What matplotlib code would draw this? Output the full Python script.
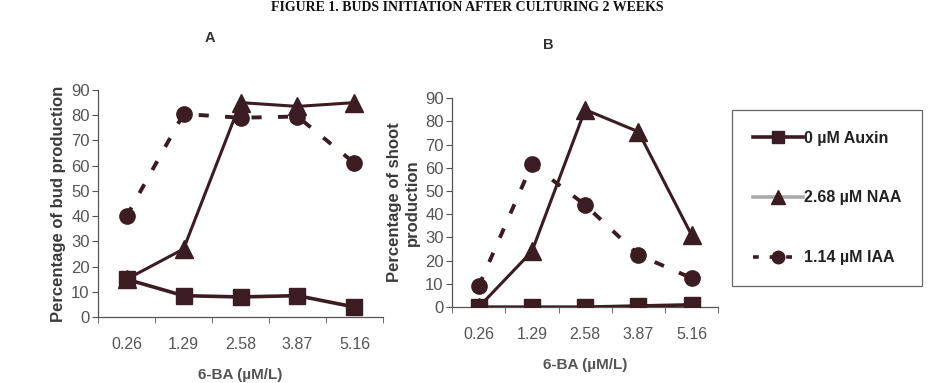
import numpy as np
import matplotlib.pyplot as plt
from matplotlib.lines import Line2D

plt.rcParams['font.family'] = ['Liberation Sans', 'DejaVu Sans']

# %%
ba = ['0.26', '1.29', '2.58', '3.87', '5.16']

# A: bud production
a_auxin = [15, 8.5, 8, 8.5, 4]
a_naa = [15, 27, 85, 83.5, 85]
a_iaa = [40, 80.5, 79, 79.5, 61]

# B: shoot production
b_auxin = [0, 0, 0, 0.5, 1]
b_naa = [0, 24, 85, 75.5, 31]
b_iaa = [9, 61.5, 44, 22.5, 12.5]

labels = ['0 µM Auxin', '2.68 µM NAA', '1.14 µM IAA']

# %%
dark = '#3b1c22'
gray = '#555555'

fig = plt.figure(figsize=(9.34, 3.83), dpi=100)
fig.text(0.5, 0.998, 'FIGURE 1. BUDS INITIATION AFTER CULTURING 2 WEEKS',
         ha='center', va='top', fontsize=10, fontweight='bold',
         family='Liberation Serif', color='#111111')

axA = fig.add_axes([0.105, 0.172, 0.305, 0.593])
axB = fig.add_axes([0.484, 0.198, 0.285, 0.546])


def draw(ax, auxin, naa, iaa, ylabel):
    x = np.arange(len(ba))
    ax.plot(x, iaa, color=dark, lw=2.8, ls=(0, (2.6, 4.2)), marker='o', ms=11,
            zorder=3)
    ax.plot(x, naa, color=dark, lw=2.2, marker='^', ms=12.5, zorder=4)
    ax.plot(x, auxin, color=dark, lw=2.6, marker='s', ms=12, zorder=5)
    ax.set_xlim(-0.5, 4.5)
    ax.set_ylim(0, 90)
    ax.set_yticks(range(0, 91, 10))
    ax.set_xticks(x)
    ax.set_xticklabels(ba)
    ax.set_xticks(np.arange(-0.5, 5, 1), minor=True)
    ax.tick_params(axis='x', which='major', length=0, pad=14,
                   labelsize=11.5, labelcolor=gray)
    ax.tick_params(axis='x', which='minor', length=4, color=gray,
                   direction='out')
    ax.tick_params(axis='y', length=4, color=gray, labelsize=12,
                   labelcolor=gray, pad=2)
    for s in ['top', 'right']:
        ax.spines[s].set_visible(False)
    for s in ['left', 'bottom']:
        ax.spines[s].set_color(gray)
        ax.spines[s].set_linewidth(0.9)
    ax.set_ylabel(ylabel, fontsize=12, color='#3a3a3a', labelpad=4,
                  fontweight='bold')
    ax.set_xlabel('6-BA (µM/L)', fontsize=11, fontweight='bold',
                  color=gray, labelpad=12)


draw(axA, a_auxin, a_naa, a_iaa, 'Percentage of bud production')
draw(axB, b_auxin, b_naa, b_iaa, 'Percentage of shoot\nproduction')

fig.text(0.225, 0.9, 'A', fontsize=10.5, fontweight='bold', color='#333333',
         ha='center', va='center')
fig.text(0.587, 0.882, 'B', fontsize=10.5, fontweight='bold', color='#333333',
         ha='center', va='center')

handles = [
    Line2D([], [], color=dark, lw=2.6, marker='s', ms=9),
    Line2D([], [], color='#aaaaaa', lw=2.6, marker='^', ms=10,
           mfc=dark, mec=dark),
    Line2D([], [], color=dark, lw=2.6, ls=(0, (1.6, 3.0)), marker='o', ms=9),
]
leg = fig.legend(handles, labels, loc='upper left',
                 bbox_to_anchor=(0.784, 0.713), frameon=True, fancybox=False,
                 edgecolor='#444444', handlelength=3.1,
                 handletextpad=0.1, labelspacing=2.8, borderpad=1.3,
                 borderaxespad=0, prop={'weight': 'bold', 'size': 11.5})
leg.get_frame().set_linewidth(0.9)
for t in leg.get_texts():
    t.set_color('#222222')

plt.savefig('out.png', dpi=100)
